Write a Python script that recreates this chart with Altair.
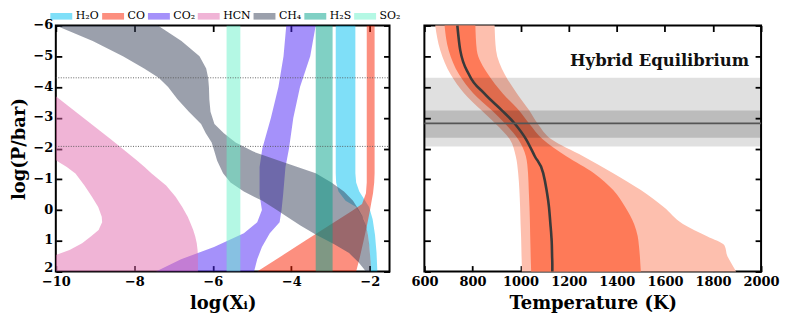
import altair as alt
import pandas as pd

# ---------------- left panel: abundance bands ----------------
species = ["H₂O", "CO", "CO₂", "HCN", "CH₄", "H₂S", "SO₂"]
species_colors = ["#00c0f2", "#f91f00", "#4b23f5", "#e169ad", "#374159", "#01a189", "#69f1c9"]

h2o_logp = [-6, -1.2, -0.9, -0.6, -0.3, -0.1, 0.3, 0.8, 1.4, 2.0]
h2o_lo = [-2.87, -2.87, -2.86, -2.80, -2.62, -2.35, -2.15, -2.05, -2.00, -1.97]
h2o_hi = [-2.37, -2.37, -2.35, -2.27, -2.12, -2.02, -1.93, -1.87, -1.83, -1.81]

co_logp = [-6, -1.2, -0.9, -0.55, -0.2, 0.02, 0.47, 1.0, 1.5, 2.0]
co_lo = [-2.08, -2.08, -2.08, -2.10, -2.20, -2.45, -3.00, -3.65, -4.26, -4.87]
co_hi = [-1.88, -1.88, -1.89, -1.92, -1.97, -2.00, -2.07, -2.16, -2.25, -2.35]

co2_logp = [-6, -5, -4, -3, -2, -1.4, -0.5, 0.0, 0.4, 0.75, 1.2, 1.6, 2.0]
co2_lo = [-4.13, -4.20, -4.33, -4.52, -4.74, -4.81, -4.81, -4.75, -4.87, -5.21, -5.97, -6.81, -7.45]
co2_hi = [-3.38, -3.52, -3.78, -3.95, -4.06, -4.15, -4.21, -4.25, -4.30, -4.55, -4.75, -4.87, -4.95]

hcn_logp = [-3.7, -3.0, -2.3, -1.62, -1.4, -1.19, -0.8, -0.43, -0.1, 0.22, 0.4, 0.65, 0.85, 1.08, 1.3, 1.46, 1.7, 2.0]
hcn_lo = [-10, -10, -10, -10, -9.72, -9.50, -9.27, -9.08, -8.92, -8.83, -8.82, -8.91, -9.10, -9.33, -9.65, -10, -10, -10]
hcn_hi = [-10, -9.30, -8.60, -7.94, -7.74, -7.56, -7.19, -6.95, -6.78, -6.64, -6.58, -6.50, -6.45, -6.41, -6.39, -6.38, -6.38, -6.38]

ch4_logp = [-6, -5.5, -5.0, -4.6, -4.3, -4.0, -3.6, -3.2, -2.8, -2.5, -2.2, -1.9, -1.6, -1.2,
            -0.9, -0.6, -0.3, 0.0, 0.2, 0.5, 0.8, 1.1, 1.4, 1.7, 2.0]
ch4_lo = [-10, -9.06, -8.29, -7.75, -7.38, -7.14, -6.90, -6.61, -6.30, -6.18, -6.03, -5.96, -5.89, -5.74,
          -5.55, -5.21, -4.74, -4.37, -4.13, -3.77, -3.37, -2.92, -2.53, -2.29, -2.10]
ch4_hi = [-7.40, -6.80, -6.34, -6.17, -6.12, -6.10, -6.09, -6.06, -5.96, -5.72, -5.42, -4.97, -4.31, -3.38,
          -2.98, -2.66, -2.43, -2.28, -2.19, -2.10, -2.05, -2.02, -2.00, -1.98, -1.97]

h2s_logp = [-6, 2]
h2s_lo = [-3.38, -3.38]
h2s_hi = [-2.95, -2.95]

so2_logp = [-6, 2]
so2_lo = [-5.65, -5.65]
so2_hi = [-5.30, -5.30]

photosphere_lines = [-4.30, -2.07]

# ---------------- right panel: temperature profile ----------------
tp_logp = [-6, -5.2, -4.4, -3.8, -3.25, -2.8, -2.3, -1.75, -1.2, -0.65, -0.1, 0.45, 0.85, 1.15, 1.5, 1.75, 2.0]
t_2lo = [645, 666, 710, 765, 836, 897, 955, 980, 990, 995, 998, 1000, 1002, 1003, 1004, 1005, 1005]
t_1lo = [684, 701, 745, 803, 879, 937, 990, 1022, 1031, 1034, 1037, 1039, 1040, 1041, 1042, 1043, 1044]
t_med = [737, 749, 786, 848, 921, 977, 1023, 1059, 1094, 1108, 1118, 1124, 1128, 1130, 1131, 1132, 1132]
t_1hi = [812, 818, 866, 925, 992, 1037, 1092, 1190, 1305, 1385, 1435, 1472, 1487, 1492, 1496, 1498, 1500]
t_2hi = [892, 898, 935, 984, 1035, 1072, 1128, 1260, 1385, 1500, 1595, 1675, 1775, 1848, 1860, 1878, 1896]

band_outer = [-4.30, -2.07]
band_inner = [-3.24, -2.35]
band_median = -2.82

FONT = "DejaVu Serif"

# ---------------- tables ----------------
rows = []
for name, ys, los, his in [
    (species[0], h2o_logp, h2o_lo, h2o_hi),
    (species[1], co_logp, co_lo, co_hi),
    (species[2], co2_logp, co2_lo, co2_hi),
    (species[3], hcn_logp, hcn_lo, hcn_hi),
    (species[4], ch4_logp, ch4_lo, ch4_hi),
    (species[5], h2s_logp, h2s_lo, h2s_hi),
    (species[6], so2_logp, so2_lo, so2_hi),
]:
    for i, (y, a, b) in enumerate(zip(ys, los, his)):
        rows.append({"species": name, "logp": y, "lo": a, "hi": b, "i": i})
left_df = pd.DataFrame(rows)

tp_df = pd.DataFrame({"logp": tp_logp, "t2lo": t_2lo, "t1lo": t_1lo, "tmed": t_med,
                      "t1hi": t_1hi, "t2hi": t_2hi, "i": list(range(len(tp_logp)))})
lines_df = pd.DataFrame({"logp": photosphere_lines})
bands_df = pd.DataFrame({"lo": [band_outer[0], band_inner[0]], "hi": [band_outer[1], band_inner[1]],
                         "op": [0.12, 0.16]})
median_df = pd.DataFrame({"logp": [band_median]})
label_df = pd.DataFrame({"t": ["Hybrid Equilibrium"]})

# ---------------- helpers ----------------
def axis(orient, values, labels=True, title=None):
    kw = dict(orient=orient, values=values, grid=False, domain=False, ticks=True,
              tickSize=alt.ExprRef(expr="-6"), tickWidth=1.8, tickColor="black",
              labels=labels, title=title)
    if labels:
        kw.update(labelFont=FONT, labelFontWeight="bold", labelFontSize=13, labelColor="black",
                  format="d", labelPadding=10 if orient == "bottom" else 9,
                  labelFlush=False, labelOverlap=False)
        if orient == "left":
            kw.update(labelOffset={"condition": {"test": "datum.value == 2", "value": -4}, "value": -1})
    if title:
        kw.update(titleFont=FONT, titleFontWeight="bold", titleFontSize=18, titleColor="black",
                  titlePadding=6 if orient == "bottom" else 4)
    return alt.Axis(**kw)

yscale = alt.Scale(domain=[-6, 2], reverse=True, nice=False, zero=False)
xl_scale = alt.Scale(domain=[-10, -1.5], nice=False, zero=False)
xr_scale = alt.Scale(domain=[600, 2000], nice=False, zero=False)
y_vals = [-6, -5, -4, -3, -2, -1, 0, 1, 2]
xl_vals = [-10, -8, -6, -4, -2]
xr_vals = [600, 800, 1000, 1200, 1400, 1600, 1800, 2000]

PW_L, PW_R, PH = 335, 338, 247

# ---------------- left panel ----------------
areas = alt.Chart(left_df).mark_area(orient="horizontal", opacity=0.5, clip=True).encode(
    x=alt.X("lo:Q", scale=xl_scale, axis=axis("bottom", xl_vals, True, "log(Xᵢ)")),
    x2="hi:Q",
    y=alt.Y("logp:Q", scale=yscale, axis=axis("left", y_vals, True, "log(P/bar)")),
    color=alt.Color("species:N", scale=alt.Scale(domain=species, range=species_colors),
                    legend=alt.Legend(orient="none", legendX=-6, legendY=-15, direction="horizontal",
                                      title=None, symbolType="M-2,-0.6L2,-0.6L2,0.6L-2,0.6Z",
                                      symbolSize=121, symbolStrokeWidth=0, symbolOpacity=0.5,
                                      labelFont=FONT, labelFontSize=11, labelColor="black",
                                      labelOffset=9, columnPadding=2, symbolOffset=6)),
)

dotted = alt.Chart(lines_df).mark_rule(color="#555555", strokeWidth=0.9, strokeDash=[1, 1.5]).encode(
    y=alt.Y("logp:Q", scale=yscale, axis=axis("right", y_vals, False)),
    x=alt.XDatum(-10, scale=xl_scale, axis=axis("top", xl_vals, False)),
    x2=alt.X2Datum(-1.5),
)

left = alt.layer(areas, dotted).resolve_axis(x="independent", y="independent").properties(width=PW_L, height=PH)

# ---------------- right panel ----------------
gray = alt.Chart(bands_df).mark_rect(color="black").encode(
    y=alt.Y("lo:Q", scale=yscale, axis=None),
    y2="hi:Q",
    x=alt.XDatum(600, scale=xr_scale, axis=None),
    x2=alt.X2Datum(2000),
    opacity=alt.Opacity("op:Q", scale=None, legend=None),
)

outer = alt.Chart(tp_df).mark_area(orient="horizontal", interpolate="monotone", color="#fdbfae").encode(
    x=alt.X("t2lo:Q", scale=xr_scale, axis=axis("bottom", xr_vals, True, "Temperature (K)")),
    x2="t2hi:Q",
    y=alt.Y("logp:Q", scale=yscale, axis=axis("left", y_vals, False)),
)

inner = alt.Chart(tp_df).mark_area(orient="horizontal", interpolate="monotone", color="#fe7a58").encode(
    x=alt.X("t1lo:Q", scale=xr_scale, axis=None),
    x2="t1hi:Q",
    y=alt.Y("logp:Q", scale=yscale, axis=None),
)

med = alt.Chart(tp_df).mark_line(interpolate="monotone", color="#3a3a3a", strokeWidth=2.6).encode(
    x=alt.X("tmed:Q", scale=xr_scale, axis=None),
    y=alt.Y("logp:Q", scale=yscale, axis=None),
    order=alt.Order("i:Q"),
)

hline = alt.Chart(median_df).mark_rule(color="#555555", strokeWidth=1.6).encode(
    y=alt.Y("logp:Q", scale=yscale, axis=axis("right", y_vals, False)),
    x=alt.XDatum(600, scale=xr_scale, axis=axis("top", xr_vals, False)),
    x2=alt.X2Datum(2000),
)

label = alt.Chart(label_df).mark_text(align="right", baseline="middle", font=FONT, fontWeight="bold",
                                      fontSize=16.5, color="#111111").encode(
    x=alt.XDatum(1950, scale=xr_scale, axis=None),
    y=alt.YDatum(-4.85, scale=yscale, axis=None),
    text="t:N",
)

right = alt.layer(outer, inner, gray, med, hline, label).resolve_axis(
    x="independent", y="independent").properties(width=PW_R, height=PH)

chart = alt.hconcat(left, right, spacing=35, bounds="flush").resolve_legend(color="independent").properties(
    padding={"left": 2, "top": 1, "right": 0, "bottom": 0}
).configure(background="white").configure_view(stroke="black", strokeWidth=2)

chart.save("out.html", embed_options={"renderer": "svg", "actions": False})
